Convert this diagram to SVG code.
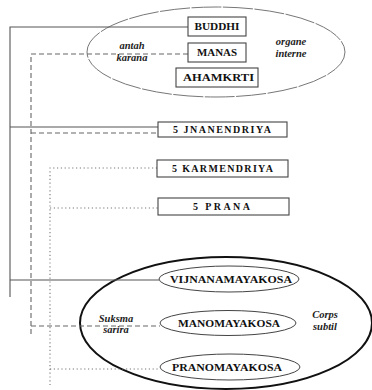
<svg xmlns="http://www.w3.org/2000/svg" width="372" height="390" viewBox="0 0 372 390">
<style>
.bg{fill:#fff}
.box{fill:#fff;stroke:#444;stroke-width:1.1}
.lbl{font-family:"Liberation Serif",serif;font-weight:bold;font-size:10px;fill:#111;text-anchor:middle}
.it{font-family:"Liberation Serif",serif;font-weight:bold;font-style:italic;font-size:10.5px;fill:#222;text-anchor:middle}
.solid{fill:none;stroke:#555;stroke-width:1.1}
.dash{fill:none;stroke:#666;stroke-width:1.1;stroke-dasharray:5 3}
.dot{fill:none;stroke:#777;stroke-width:1.1;stroke-dasharray:1.2 2.6}
.kosa{fill:#fff;stroke:#444;stroke-width:1}
</style>
<rect class="bg" x="0" y="0" width="372" height="390"/>

<g id="organe-interne">
<ellipse cx="216" cy="52" rx="129" ry="45" fill="none" stroke="#777" stroke-width="1" stroke-dasharray="30 1.5"/>
<text class="it" x="132" y="49">antah</text>
<text class="it" x="132" y="61">karana</text>
<text class="it" x="291" y="45">organe</text>
<text class="it" x="291" y="57">interne</text>
</g>

<g id="corps-subtil">
<ellipse cx="226" cy="323" rx="146" ry="66" fill="none" stroke="#111" stroke-width="2"/>
<text class="it" x="116" y="322">Suksma</text>
<text class="it" x="116" y="333">sarira</text>
<text class="it" x="325" y="318">Corps</text>
<text class="it" x="325" y="330">subtil</text>
</g>

<g id="connectors">
<polyline class="solid" points="188,27 10,27 10,297"/>
<line class="solid" x1="10" y1="127" x2="158" y2="127"/>
<line class="solid" x1="10" y1="280" x2="159" y2="280"/>
<polyline class="dash" points="188,54 31,54 31,337"/>
<line class="dash" x1="31" y1="133" x2="158" y2="133"/>
<line class="dash" x1="31" y1="326" x2="160" y2="326"/>
<polyline class="dot" points="157,168 50,168 50,385"/>
<line class="dot" x1="50" y1="208" x2="158" y2="208"/>
<line class="dot" x1="50" y1="369" x2="160" y2="369"/>
</g>

<g id="buddhi">
<rect class="box" x="188" y="17" width="58" height="19"/>
<text class="lbl" x="217" y="30" textLength="45" lengthAdjust="spacingAndGlyphs">BUDDHI</text>
</g>
<g id="manas">
<rect class="box" x="188" y="43" width="58" height="19"/>
<text class="lbl" x="217" y="56" textLength="40" lengthAdjust="spacingAndGlyphs">MANAS</text>
</g>
<g id="ahamkrti">
<rect class="box" x="176" y="68" width="82" height="19"/>
<text class="lbl" x="218.5" y="81" textLength="71" lengthAdjust="spacingAndGlyphs">AHAMKRTI</text>
</g>

<g id="jnanendriya">
<rect class="box" x="158" y="122" width="129" height="15"/>
<text class="lbl" x="222" y="133" font-size="9.5" textLength="98" lengthAdjust="spacing">5 JNANENDRIYA</text>
</g>
<g id="karmendriya">
<rect class="box" x="157" y="160" width="131" height="17"/>
<text class="lbl" x="222.5" y="172" font-size="9.5" textLength="101" lengthAdjust="spacing">5 KARMENDRIYA</text>
</g>
<g id="prana">
<rect class="box" x="158" y="198" width="131" height="17"/>
<text class="lbl" x="221.5" y="210" font-size="9" textLength="57" lengthAdjust="spacing">5 PRANA</text>
</g>

<g id="vijnanamayakosa">
<ellipse class="kosa" cx="229" cy="279" rx="70" ry="13"/>
<text class="lbl" x="231" y="283" textLength="122" lengthAdjust="spacingAndGlyphs">VIJNANAMAYAKOSA</text>
</g>
<g id="manomayakosa">
<ellipse class="kosa" cx="228" cy="323" rx="68" ry="12.5"/>
<text class="lbl" x="229" y="327" textLength="102" lengthAdjust="spacingAndGlyphs">MANOMAYAKOSA</text>
</g>
<g id="pranomayakosa">
<ellipse class="kosa" cx="230" cy="367" rx="70" ry="13"/>
<text class="lbl" x="227" y="371" textLength="110" lengthAdjust="spacingAndGlyphs">PRANOMAYAKOSA</text>
</g>
</svg>
